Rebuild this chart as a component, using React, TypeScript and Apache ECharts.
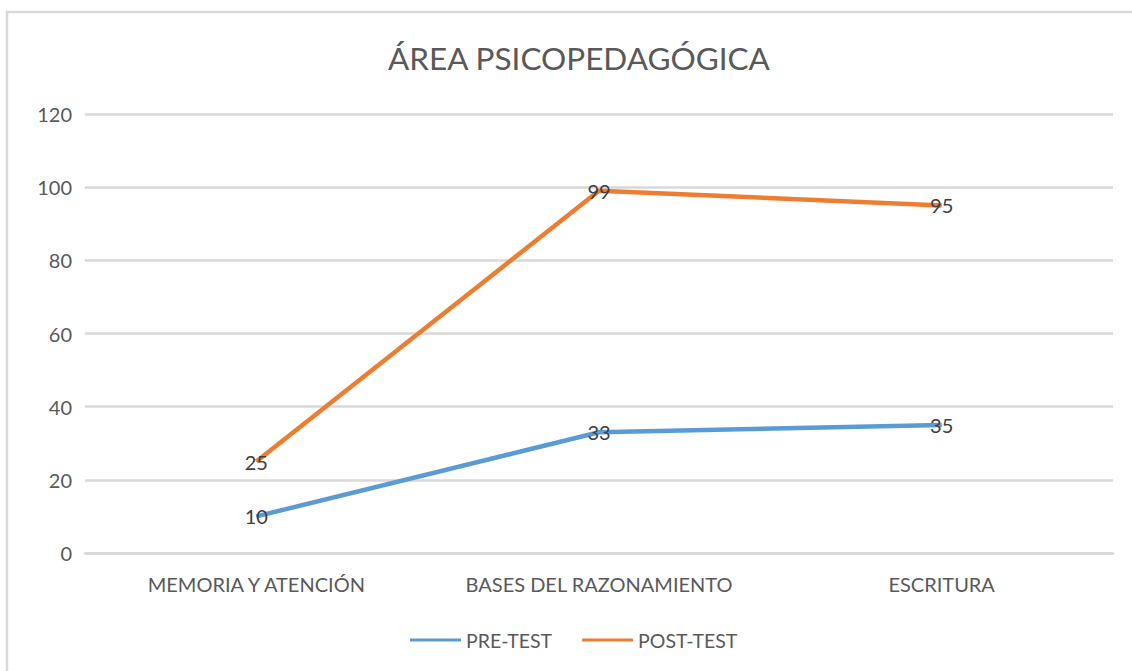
import React, { useEffect, useRef } from "react";
import * as echarts from "echarts";

const categories = ["MEMORIA Y ATENCIÓN", "BASES DEL RAZONAMIENTO", "ESCRITURA"];
const preTest = [10, 33, 35];
const postTest = [25, 99, 95];
const seriesNames = ["PRE-TEST", "POST-TEST"];
const titleText = "ÁREA PSICOPEDAGÓGICA";

const FONT = "Lato, 'Noto Sans', sans-serif";
const TXT = "#595959";

export default function App() {
  const ref = useRef<HTMLDivElement>(null);
  useEffect(() => {
    if (!ref.current) return;
    const chart = echarts.init(ref.current, undefined, { renderer: "svg" });
    const mkSeries = (name: string, data: number[], color: string) => ({
      name,
      type: "line",
      data,
      symbol: "circle",
      symbolSize: 1,
      lineStyle: { color, width: 4.5 },
      itemStyle: { color },
      label: {
        show: true,
        position: "inside",
        color: "#404040",
        fontSize: 20,
        fontFamily: FONT,
      },
    });
    chart.setOption({
      animation: false,
      backgroundColor: "#ffffff",
      textStyle: { fontFamily: FONT },
      title: {
        text: titleText,
        left: 383,
        top: 37,
        textStyle: { color: TXT, fontSize: 31.5, fontWeight: "normal", fontFamily: FONT },
      },
      graphic: [
        {
          type: "rect",
          shape: { x: 7, y: 12, width: 1140, height: 700 },
          style: { fill: "none", stroke: "#d9d9d9", lineWidth: 2.5 },
          silent: true,
        },
      ],
      legend: {
        data: seriesNames,
        left: 405,
        top: 625,
        icon: "rect",
        itemWidth: 51,
        itemHeight: 3,
        itemGap: 30,
        textStyle: { color: TXT, fontSize: 19.5, fontFamily: FONT },
      },
      grid: { left: 85, right: 19, top: 114, bottom: 118, containLabel: false },
      xAxis: {
        type: "category",
        data: categories,
        boundaryGap: true,
        axisLine: { lineStyle: { color: "#d9d9d9", width: 2.5 } },
        axisTick: { show: false },
        axisLabel: {
          color: TXT,
          fontSize: 20,
          margin: 21,
          fontFamily: FONT,
          interval: 0,
          hideOverlap: false,
        },
      },
      yAxis: {
        type: "value",
        min: 0,
        max: 120,
        interval: 20,
        axisLine: { show: false },
        axisTick: { show: false },
        axisLabel: { color: TXT, fontSize: 20, margin: 13, fontFamily: FONT },
        splitLine: { lineStyle: { color: "#d9d9d9", width: 2.5 } },
      },
      series: [
        mkSeries(seriesNames[0], preTest, "#5B9BD5"),
        mkSeries(seriesNames[1], postTest, "#ED7D31"),
      ],
    });
    return () => chart.dispose();
  }, []);
  return (
    <div
      ref={ref}
      style={{ position: "fixed", left: 0, top: 0, width: 1132, height: 671 }}
    />
  );
}
